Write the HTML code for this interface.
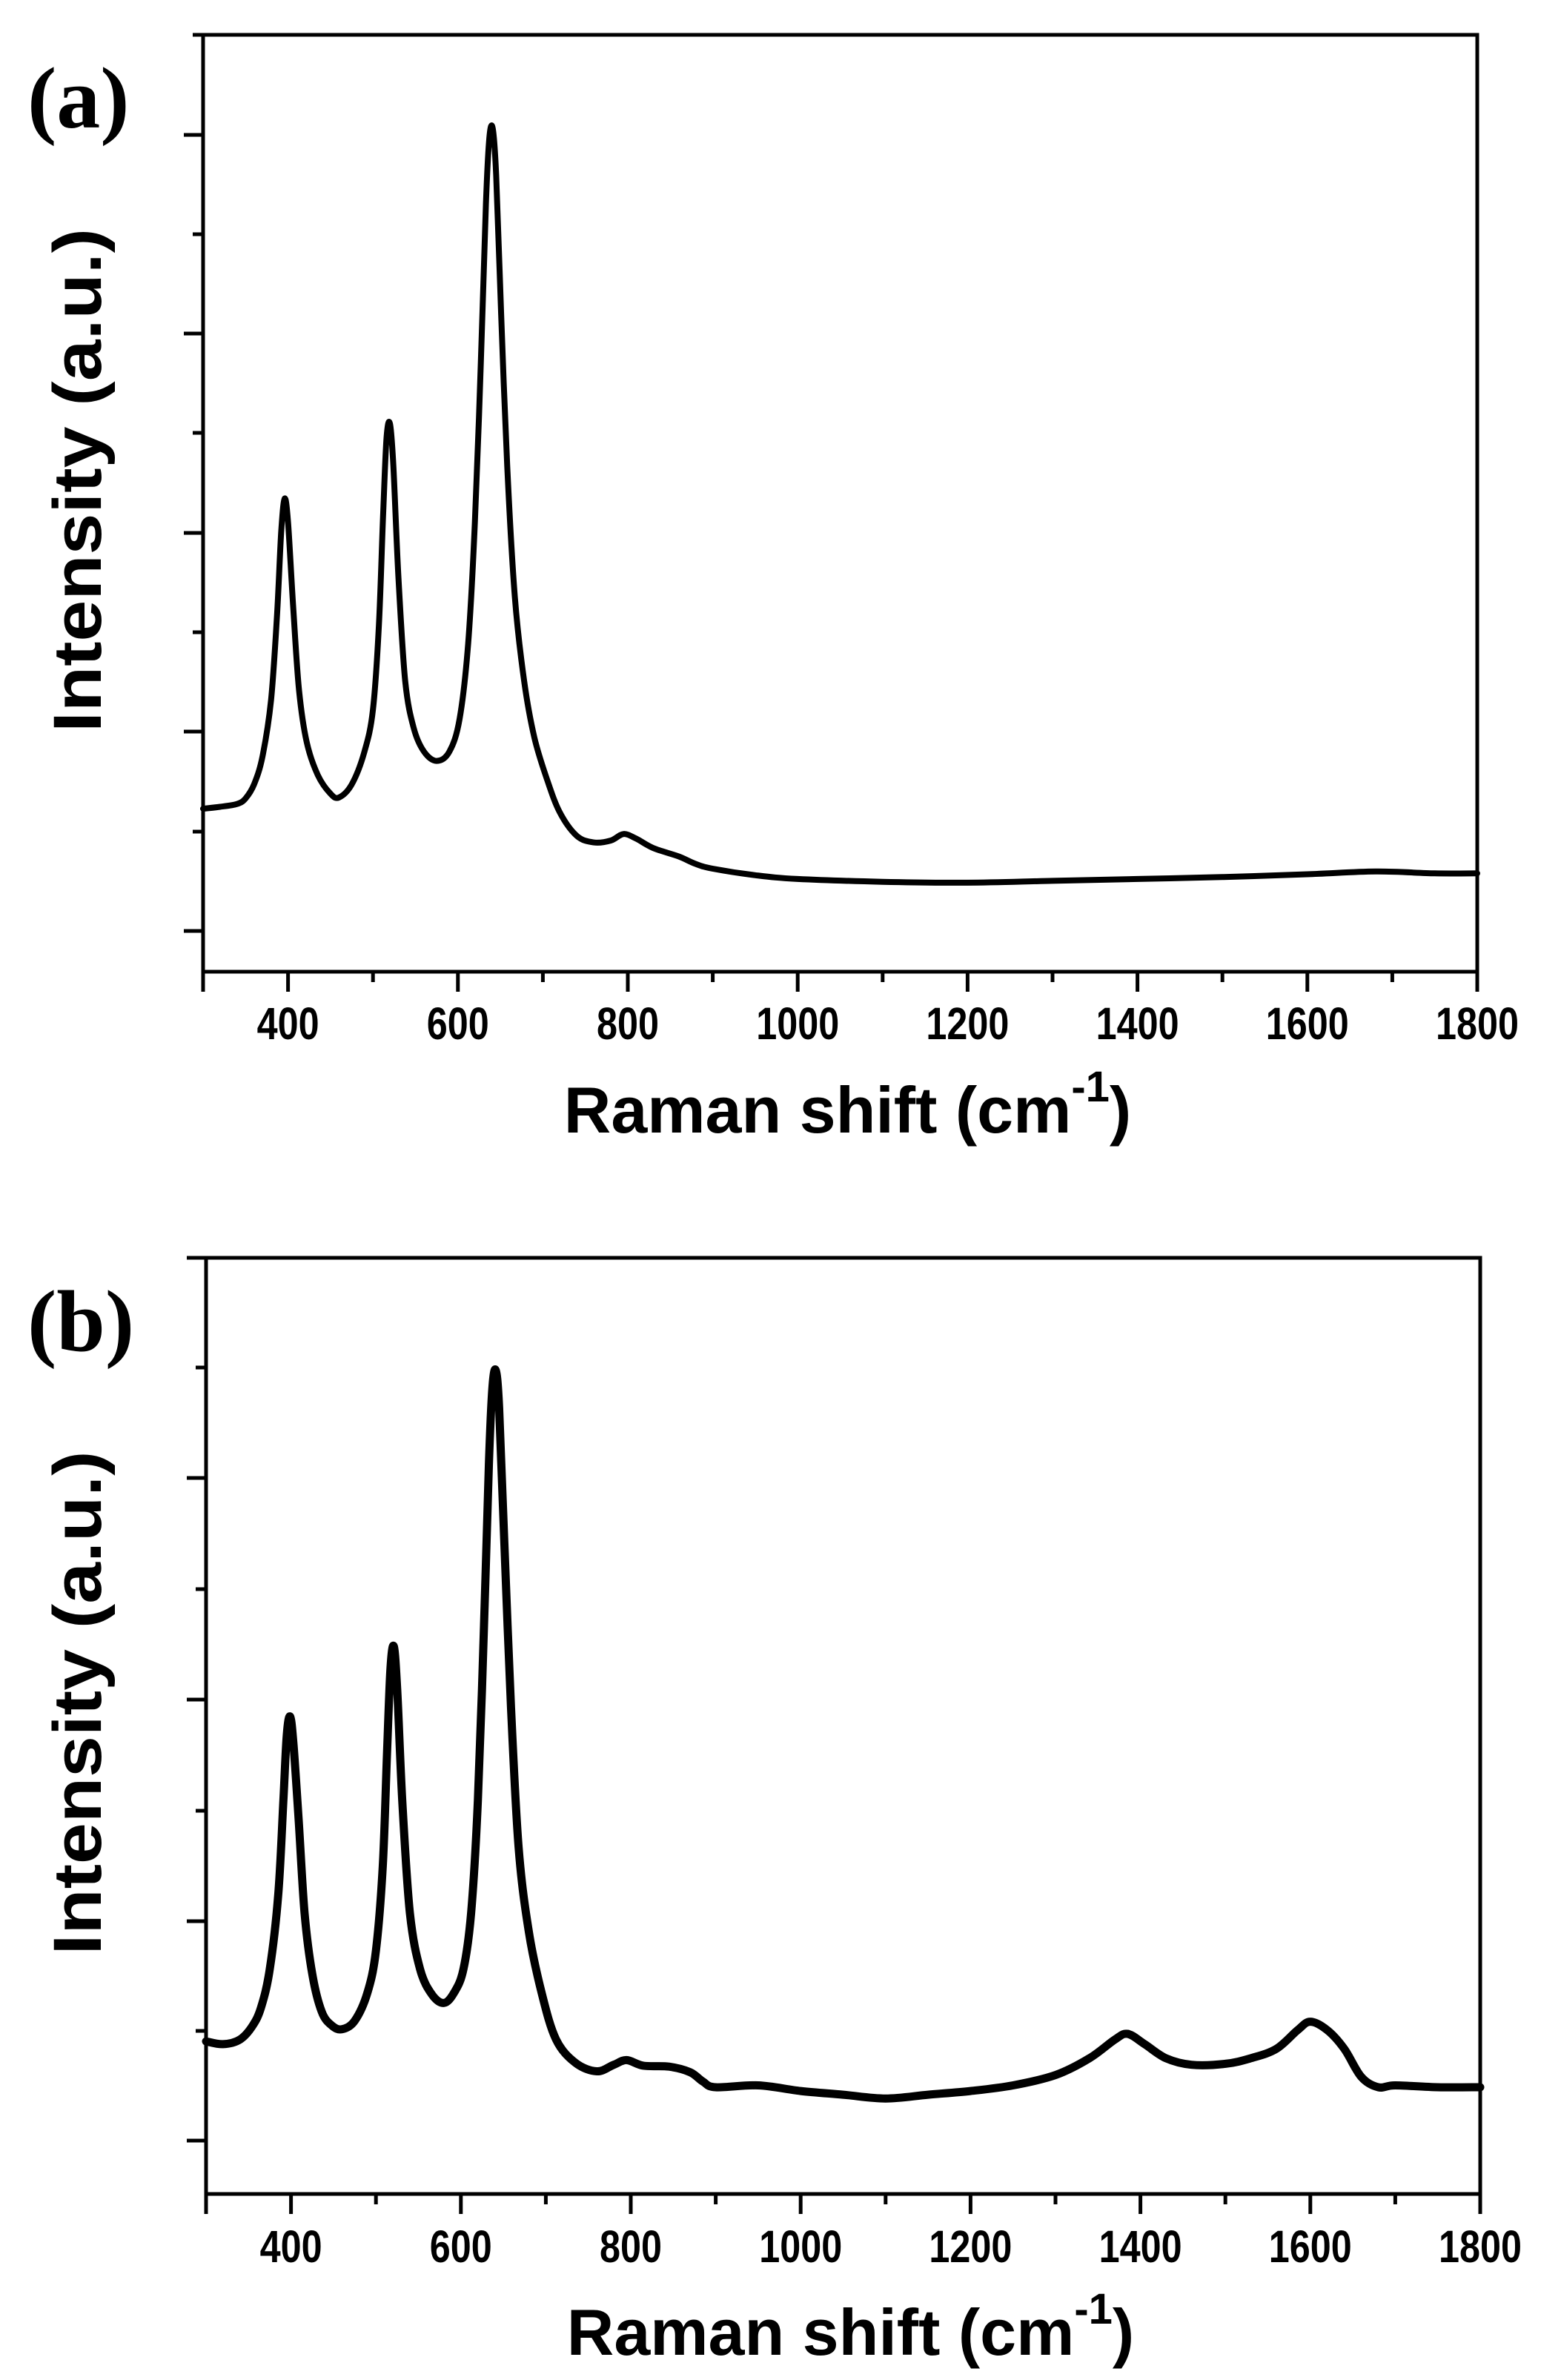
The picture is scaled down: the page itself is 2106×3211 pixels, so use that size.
<!DOCTYPE html>
<html><head><meta charset="utf-8"><style>
html,body{margin:0;padding:0;background:#fff;}
svg{display:block;}
</style></head><body>
<svg id="fig" width="2106" height="3211" viewBox="0 0 2106 3211" xmlns="http://www.w3.org/2000/svg">
<rect x="0" y="0" width="2106" height="3211" fill="#fff"/>
</svg>
<script>
// Panel (a) data
const shiftA = [300,320,340,350,360,370,380,387,392,396,400,406,413,422,435,450,460,475,490,500,507,512,516,520,524,530,538,548,560,575,590,602,612,620,627,633,637,641,645,651,658,667,678,690,705,720,740,760,780,795,810,830,860,880,900,950,1000,1100,1200,1300,1400,1500,1600,1680,1750,1800];
const intensityA = [17.4,17.6,17.9,18.5,20,23,29,38,47,50.5,48,39,30,24.5,21,19,18.6,20,23.5,28,37,49,57,58.5,54,42,31,26,23.5,22.5,23.5,27,35,48,65,82,89,90,85,70,54,40,31,25,20.5,17,14.5,13.8,14,14.7,14.2,13.2,12.3,11.5,11,10.3,9.9,9.6,9.5,9.7,9.9,10.1,10.4,10.7,10.5,10.5];
// Panel (b) data
const shiftB = [300,320,340,355,365,375,385,391,395,399,403,409,416,425,436,448,460,475,490,500,508,513,517,521,525,531,540,552,566,580,592,603,612,620,627,633,637,641,645,651,659,668,680,695,712,735,760,780,795,815,845,870,885,900,950,1000,1050,1100,1150,1200,1250,1300,1340,1370,1385,1405,1430,1460,1500,1530,1560,1585,1600,1620,1640,1660,1680,1700,1750,1800];
const intensityB = [16.3,16,16.5,18,20,24,32,42,49,51,48,40,30,23.5,19.5,18,17.6,18.5,21.5,26,35,47,56,58.5,54,42,30,24,21.3,20.4,21.5,24,30,42,60,78,86,88,84,70,52,37,28,21.5,16.5,14,13.1,13.8,14.3,13.7,13.6,13,12,11.4,11.6,11.0,10.6,10.2,10.6,11.0,11.6,12.7,14.5,16.5,17.1,16,14.5,13.8,13.9,14.5,15.5,17.5,18.4,17.5,15.5,12.5,11.4,11.6,11.4,11.4];
const xTickValues = [400,600,800,1000,1200,1400,1600,1800];
const xMinorValues = [300,500,700,900,1100,1300,1500,1700];

const NS = 'http://www.w3.org/2000/svg';
const svg = document.getElementById('fig');
function mk(tag, attrs, parent){
  const e = document.createElementNS(NS, tag);
  for (const k in attrs) e.setAttribute(k, attrs[k]);
  (parent||svg).appendChild(e);
  return e;
}
function spline(P){
  let d = 'M'+P[0][0].toFixed(1)+','+P[0][1].toFixed(1);
  for (let i=0;i<P.length-1;i++){
    const p0=P[Math.max(0,i-1)], p1=P[i], p2=P[i+1], p3=P[Math.min(P.length-1,i+2)];
    const c1x=p1[0]+(p2[0]-p0[0])/6, c1y=p1[1]+(p2[1]-p0[1])/6;
    const c2x=p2[0]-(p3[0]-p1[0])/6, c2y=p2[1]-(p3[1]-p1[1])/6;
    d+=' C'+c1x.toFixed(1)+','+c1y.toFixed(1)+' '+c2x.toFixed(1)+','+c2y.toFixed(1)+' '+p2[0].toFixed(1)+','+p2[1].toFixed(1);
  }
  return d;
}

function panel(cfg){
  const g = mk('g', {});
  
  
  const L=cfg.left, R=cfg.right, T=cfg.top, B=cfg.bottom;
  const xs = v => L + (v-300)/1500*(R-L);
  const ys = v => B - v/100*(B-T);
  const frame = mk('rect', {x:L,y:T,width:R-L,height:B-T,fill:'none',stroke:'#000','stroke-width':5}, g);
  
  
  for (let i=0;i<cfg.yTicks.length;i++){
    const t = cfg.yTicks[i];
    const len = t.major ? 26 : 14;
    const tk = mk('line', {x1:L-len,x2:L,y1:t.y,y2:t.y,stroke:'#000','stroke-width':5}, g);
    
    
  }
  xTickValues.forEach(v=>{
    const tk = mk('line', {x1:xs(v),x2:xs(v),y1:B,y2:B+27,stroke:'#000','stroke-width':5}, g);
    
    
    const lb = mk('text', {x:xs(v),y:cfg.labelBase,'text-anchor':'middle','font-family':'Liberation Sans, Arial, sans-serif','font-weight':'bold','font-size':61,'textLength':(String(v).length*28),'lengthAdjust':'spacingAndGlyphs'}, g);
    lb.textContent = v;
    
    
  });
  xMinorValues.forEach(v=>{
    const len = v===300 ? 27 : 14;
    const tk = mk('line', {x1:xs(v),x2:xs(v),y1:B,y2:B+len,stroke:'#000','stroke-width':5}, g);
    
    
  });
  const P = cfg.xv.map((v,i)=>[xs(v), ys(cfg.yv[i])]);
  const line = mk('path', {d:spline(P),fill:'none',stroke:'#000','stroke-width':cfg.lw,'stroke-linejoin':'round','stroke-linecap':'round'}, g);
  
  
  const xt = mk('text', {x:(L+R)/2 + 10,y:B+217,'text-anchor':'middle','font-family':'Liberation Sans, Arial, sans-serif','font-weight':'bold','font-size':88}, g);
  
  
  xt.innerHTML = 'Raman shift (cm<tspan dy="-42" font-size="58">-1</tspan><tspan dy="42">)</tspan>';
  const cy = (T+B)/2 - 31;
  const yt = mk('text', {x:0,y:0,transform:'translate(136,'+cy+') rotate(-90)','text-anchor':'middle','font-family':'Liberation Sans, Arial, sans-serif','font-weight':'bold','font-size':92,'textLength':680,'lengthAdjust':'spacingAndGlyphs'}, g);
  yt.textContent = 'Intensity (a.u.)';
  
  
  const pl = mk('text', {x:37,y:T+125,'font-family':'Liberation Serif, Times New Roman, serif','font-weight':'bold','font-size':118}, g);
  pl.textContent = cfg.label;
  
  
}

const ticksA = [];
[47,316,584,853,1122].forEach(y=>ticksA.push({y:y,major:false}));
[182,450,719,987,1256].forEach(y=>ticksA.push({y:y,major:true}));
const ticksB = [];
[1697,1994,2293,2592,2888].forEach(y=>ticksB.push({y:y,major:true}));
[1845,2144,2443,2740].forEach(y=>ticksB.push({y:y,major:false}));

panel({name:'panel-a',left:274,right:1993,top:47,bottom:1311,labelBase:1402,xv:shiftA,yv:intensityA,lw:8,yTicks:ticksA,label:'(a)'});
panel({name:'panel-b',left:278,right:1997,top:1697,bottom:2960,labelBase:3052,xv:shiftB,yv:intensityB,lw:11,yTicks:ticksB,label:'(b)'});
</script>
</body></html>
